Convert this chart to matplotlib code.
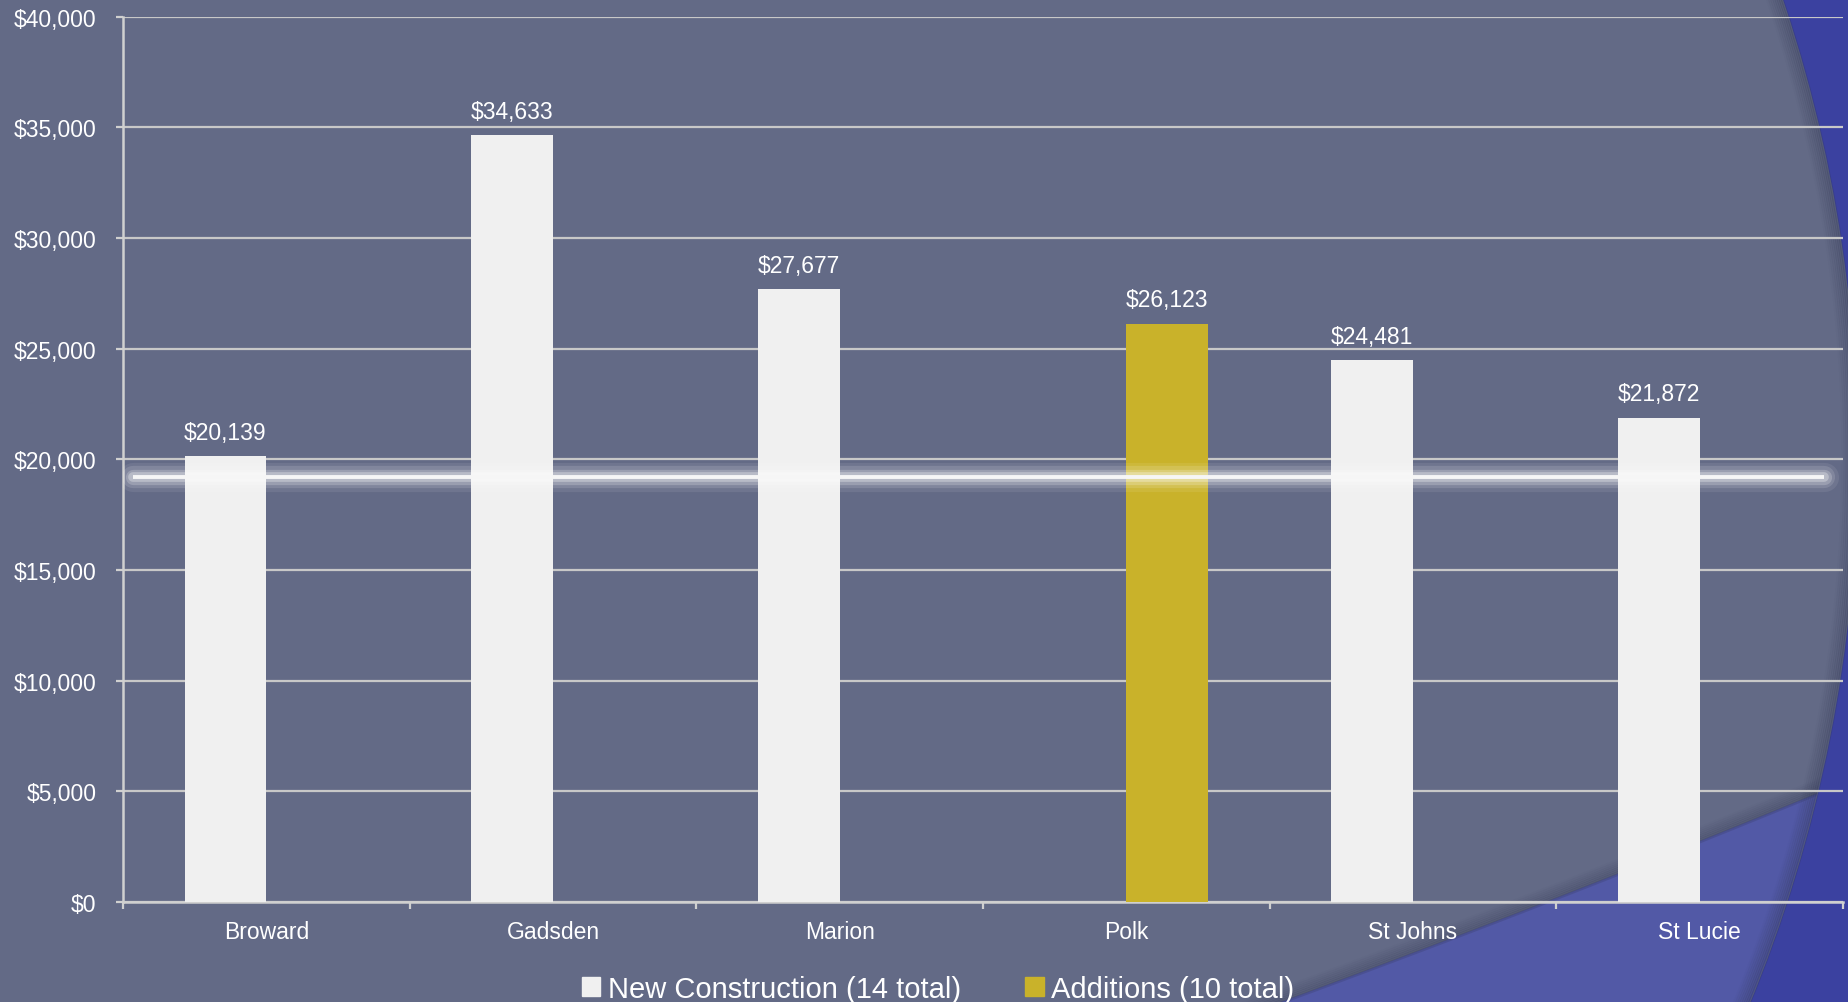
import numpy as np
import matplotlib.pyplot as plt
from matplotlib.patches import Circle, Polygon, Rectangle, Patch

# ---- data ----
counties = ["Broward", "Gadsden", "Marion", "Polk", "St Johns", "St Lucie"]
new_construction = [20139, 34633, 27677, np.nan, 24481, 21872]
additions = [np.nan, np.nan, np.nan, 26123, np.nan, np.nan]
series_names = ["New Construction (14 total)", "Additions (10 total)"]
average_value = 19200
y_ticks = [0, 5000, 10000, 15000, 20000, 25000, 30000, 35000, 40000]

# ---- style ----
BG = "#636a86"
DARK_BLUE = "#3b41a0"
LIGHT_BLUE = "#5259a6"
BAR_WHITE = "#f0f0f0"
BAR_GOLD = "#c9b22a"
GRID = "#c8c8c8"
TXT = "white"
FONT = ["Liberation Sans", "DejaVu Sans"]
NARROW = ["Liberation Sans Narrow", "Liberation Sans", "DejaVu Sans"]

plt.rcParams["font.family"] = FONT

W, H = 1849, 1003
fig = plt.figure(figsize=(W / 100, H / 100), dpi=100)
fig.patch.set_facecolor(DARK_BLUE)

# ---- decorative slide background ----
bg = fig.add_axes([0, 0, 1, 1], zorder=-1)
bg.set_xlim(0, W)
bg.set_ylim(H, 0)
bg.axis("off")
bg.add_patch(Rectangle((0, 0), W, H, color=DARK_BLUE))

cx, cy, R = 418, 458, 1439
disc = Circle((cx, cy), R, color=BG)
bg.add_patch(disc)

# lighter wedge in the lower right corner
px = np.array([1283, 1614, 1849])
py = np.array([1003, 877, 782])
coef = np.polyfit(px, py, 2)
cxs = np.linspace(1150, 1870, 60)
cys = np.polyval(coef, cxs)
wedge = Polygon(np.column_stack([np.r_[cxs, 1870, 1150], np.r_[cys, 1100, 1100]]),
                closed=True, color=LIGHT_BLUE)
bg.add_patch(wedge)
wedge.set_clip_path(disc)
for i in range(8):
    ln, = bg.plot(cxs, cys - i * 2.0, color="#2e3350", lw=2.2,
                  alpha=0.22 * (1 - i / 8))
    ln.set_clip_path(disc)

# soft shadow along the rim of the big disc
for i in range(8):
    ring = Circle((cx, cy), R - i * 2.0, fill=False, ec="#2e3350", lw=2.2,
                  alpha=0.25 * (1 - i / 8))
    bg.add_patch(ring)

# ---- chart ----
ax = fig.add_axes([123 / W, 1 - 903 / H, (1843 - 123) / W, (903 - 17.5) / H])
ax.set_facecolor("none")

x = np.arange(len(counties))
w = 0.285
nc = np.array(new_construction, dtype=float)
ad = np.array(additions, dtype=float)
m1 = ~np.isnan(nc)
m2 = ~np.isnan(ad)

ax.bar(x[m1] - w / 2, nc[m1], width=w, color=BAR_WHITE, zorder=3,
       label=series_names[0])
ax.bar(x[m2] + w / 2, ad[m2], width=w, color=BAR_GOLD, zorder=3,
       label=series_names[1])

for xi, v in zip(x[m1] - w / 2, nc[m1]):
    ax.annotate(f"${v:,.0f}", (xi, v), xytext=(0, 9), textcoords="offset points",
                ha="center", va="bottom", color=TXT, fontsize=16.5)
for xi, v in zip(x[m2] + w / 2, ad[m2]):
    ax.annotate(f"${v:,.0f}", (xi, v), xytext=(0, 9), textcoords="offset points",
                ha="center", va="bottom", color=TXT, fontsize=16.5)

# glowing average line
gx = [-0.465, 5.435]
gy = [average_value, average_value]
for lw, a in [(21, 0.08), (16, 0.13), (11, 0.2), (7, 0.3)]:
    ax.plot(gx, gy, color="white", lw=lw, alpha=a, solid_capstyle="round", zorder=4)
ax.plot(gx, gy, color="#f6f6f6", lw=2.8, solid_capstyle="butt", zorder=5)

ax.set_xlim(-0.5, len(counties) - 0.5)
ax.set_ylim(0, 40000)
ax.set_yticks(y_ticks)
ax.set_yticklabels([f"${t:,.0f}" for t in y_ticks])
ax.set_xticks(np.arange(-0.5, len(counties), 1.0))
ax.set_xticklabels([])
ax.set_xticks(x, minor=True)
ax.set_xticklabels(counties, minor=True)

ax.yaxis.grid(True, color=GRID, lw=1.6)
ax.set_axisbelow(True)
for s in ["top", "right"]:
    ax.spines[s].set_visible(False)
for s in ["left", "bottom"]:
    ax.spines[s].set_color("#d0d0d0")
    ax.spines[s].set_linewidth(1.8)

ax.tick_params(axis="y", which="major", length=5, width=1.6, color="#d0d0d0",
               labelcolor=TXT, labelsize=16.5, pad=14)
ax.tick_params(axis="x", which="major", length=5, width=1.6, color="#d0d0d0")
ax.tick_params(axis="x", which="minor", length=0, labelcolor=TXT,
               labelsize=16.5, pad=13)

handles = [Patch(color=BAR_WHITE), Patch(color=BAR_GOLD)]
fig.legend(handles, series_names, loc="center", bbox_to_anchor=(938 / W, 1 - 990 / H),
           ncol=2, frameon=False, prop={"family": NARROW, "size": 21},
           labelcolor=TXT, handlelength=0.65, handleheight=0.65,
           handletextpad=0.25, columnspacing=2.2, borderpad=0)

fig.savefig("out.png", dpi=100, facecolor=fig.get_facecolor())
